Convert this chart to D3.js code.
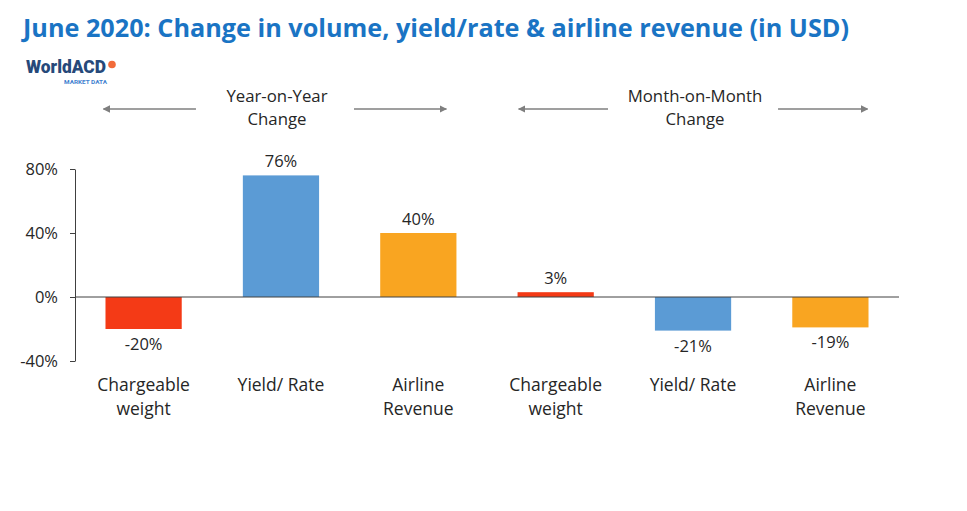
<!DOCTYPE html>
<html>
<head>
<meta charset="utf-8">
<script src="https://cdn.jsdelivr.net/npm/d3@7"></script>
<style>
  body { margin: 0; background: #fff; }
  svg { display: block; font-family: "Open Sans", "Noto Sans", sans-serif; }
</style>
</head>
<body>
<svg id="chart" width="967" height="511"></svg>
<script>
const categories = ["cw_yoy", "yr_yoy", "ar_yoy", "cw_mom", "yr_mom", "ar_mom"];
const categoryLabels = [
  ["Chargeable", "weight"], ["Yield/ Rate"], ["Airline", "Revenue"],
  ["Chargeable", "weight"], ["Yield/ Rate"], ["Airline", "Revenue"]
];
const values = [-20, 76, 40, 3, -21, -19];
const barColors = ["#f43a16", "#5b9bd5", "#f9a521", "#f43a16", "#5b9bd5", "#f9a521"];
const yTicks = [-40, 0, 40, 80];
const groupTitles = [["Year-on-Year", "Change"], ["Month-on-Month", "Change"]];
const groupSpans = [[0, 2], [3, 5]];

// arrow layout per group: [left tip inset, right tip inset, half gap around text]
const arrowLayout = [[-2, -10, 79], [1, -1, 85]];

const svg = d3.select("#chart");
const margin = { top: 169, left: 75, right: 68, bottom: 150 };
const width = 967 - margin.left - margin.right;
const height = 511 - margin.top - margin.bottom;

const x = d3.scaleBand().domain(categories).range([0, width]).paddingInner(0.445).paddingOuter(0.222);
const y = d3.scaleLinear().domain([-40, 80]).range([height, 0]);

// title
svg.append("text")
  .attr("x", 23).attr("y", 37)
  .attr("fill", "#1a74c4")
  .attr("font-family", "Open Sans, sans-serif")
  .attr("font-weight", "bold")
  .attr("font-size", 24.5)
  .attr("textLength", 826)
  .attr("lengthAdjust", "spacingAndGlyphs")
  .text("June 2020: Change in volume, yield/rate & airline revenue (in USD)");

// logo
svg.append("text")
  .attr("x", 26).attr("y", 73)
  .attr("fill", "#26497a")
  .attr("font-family", "Roboto, sans-serif")
  .attr("font-weight", "900")
  .attr("font-size", 18)
  .attr("textLength", 80)
  .attr("lengthAdjust", "spacingAndGlyphs")
  .text("WorldACD");
svg.append("circle").attr("cx", 112).attr("cy", 64.5).attr("r", 3.8).attr("fill", "#f26b3a");
svg.append("text")
  .attr("x", 64).attr("y", 84)
  .attr("fill", "#3f7fcf")
  .attr("font-family", "Roboto, sans-serif")
  .attr("font-weight", "bold")
  .attr("font-size", 5.5)
  .attr("textLength", 43)
  .attr("lengthAdjust", "spacingAndGlyphs")
  .text("MARKET DATA");

const defs = svg.append("defs");
defs.append("marker")
  .attr("id", "arrow")
  .attr("viewBox", "0 0 10 10")
  .attr("refX", 9).attr("refY", 5)
  .attr("markerWidth", 5).attr("markerHeight", 5)
  .attr("orient", "auto-start-reverse")
  .append("path").attr("d", "M0,0L10,5L0,10z").attr("fill", "#7f7f7f");

const g = svg.append("g").attr("transform", `translate(${margin.left},${margin.top})`);

// group headers with arrows
groupTitles.forEach(function (lines, k) {
  const span = groupSpans[k];
  const lay = arrowLayout[k];
  const left = x(categories[span[0]]) + lay[0];
  const right = x(categories[span[1]]) + x.bandwidth() + lay[1];
  const cx = (left + right) / 2;
  const ay = 109 - margin.top;
  lines.forEach(function (line, i) {
    g.append("text")
      .attr("x", cx + 2).attr("y", 102 - margin.top + i * 23)
      .attr("text-anchor", "middle")
      .attr("fill", "#262626")
      .attr("font-size", 16.8)
      .text(line);
  });
  g.append("line")
    .attr("x1", cx - lay[2]).attr("x2", left)
    .attr("y1", ay).attr("y2", ay)
    .attr("stroke", "#7f7f7f").attr("stroke-width", 1.5)
    .attr("marker-end", "url(#arrow)");
  g.append("line")
    .attr("x1", cx + lay[2]).attr("x2", right)
    .attr("y1", ay).attr("y2", ay)
    .attr("stroke", "#7f7f7f").attr("stroke-width", 1.5)
    .attr("marker-end", "url(#arrow)");
});

// bars
g.selectAll(".bar")
  .data(values)
  .enter()
  .append("rect")
  .attr("class", "bar")
  .attr("x", (d, i) => x(categories[i]))
  .attr("width", x.bandwidth())
  .attr("y", d => y(Math.max(0, d)))
  .attr("height", d => Math.abs(y(d) - y(0)))
  .attr("fill", (d, i) => barColors[i]);

// value labels
g.selectAll(".val")
  .data(values)
  .enter()
  .append("text")
  .attr("class", "val")
  .attr("x", (d, i) => x(categories[i]) + x.bandwidth() / 2)
  .attr("y", d => d >= 0 ? y(d) - 8 : y(d) + 21)
  .attr("text-anchor", "middle")
  .attr("fill", "#262626")
  .attr("font-size", 16.5)
  .text(d => d + "%");

// y axis
const yAxis = g.append("g")
  .call(d3.axisLeft(y).tickValues(yTicks).tickSize(5).tickSizeOuter(0).tickFormat(d => d + "%"));
yAxis.select(".domain").attr("stroke", "#404040");
yAxis.selectAll(".tick line").attr("stroke", "#404040");
yAxis.selectAll(".tick text")
  .attr("fill", "#262626")
  .attr("font-size", 16.5)
  .attr("font-family", "Open Sans, sans-serif")
  .attr("x", -17);

// zero line
g.append("line")
  .attr("x1", 0).attr("x2", width)
  .attr("y1", y(0)).attr("y2", y(0))
  .attr("stroke", "#404040").attr("stroke-width", 1);

// category labels
categoryLabels.forEach(function (lines, i) {
  lines.forEach(function (line, j) {
    g.append("text")
      .attr("x", x(categories[i]) + x.bandwidth() / 2)
      .attr("y", height + 30 + j * 24)
      .attr("text-anchor", "middle")
      .attr("fill", "#262626")
      .attr("font-size", 17.5)
      .text(line);
  });
});
</script>
</body>
</html>
